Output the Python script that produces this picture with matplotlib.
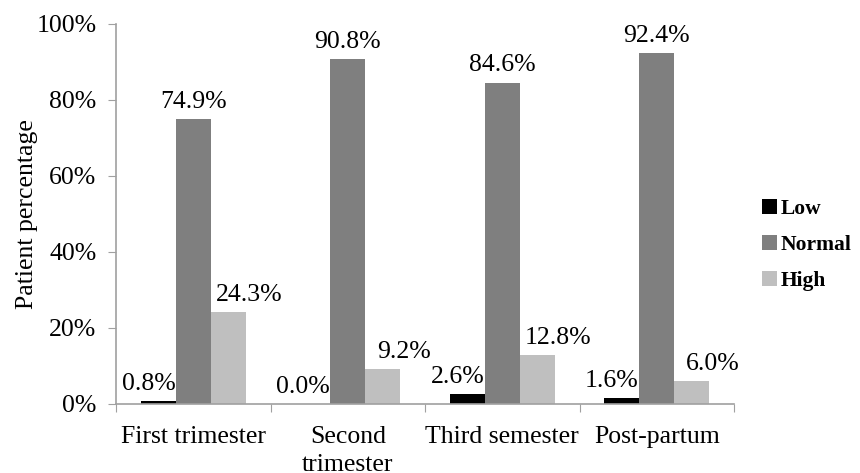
import matplotlib
matplotlib.use("Agg")
import matplotlib.pyplot as plt
import numpy as np

categories = ["First trimester", "Second\ntrimester", "Third semester", "Post-partum"]
series_names = ["Low", "Normal", "High"]
low = [0.8, 0.0, 2.6, 1.6]
normal = [74.9, 90.8, 84.6, 92.4]
high = [24.3, 9.2, 12.8, 6.0]
colors = ["#000000", "#7f7f7f", "#bfbfbf"]
y_ticks = [0, 20, 40, 60, 80, 100]

plt.rcParams["font.family"] = ["Liberation Serif", "DejaVu Serif"]

fig = plt.figure(figsize=(8.6, 4.73), dpi=100)
ax = fig.add_axes([0.1349, 0.1459, 0.7186, 0.8034])

x = np.arange(len(categories))
width = 0.227
series = [low, normal, high]
label_dx = [-7, 0, 15]
for i, (vals, name, c) in enumerate(zip(series, series_names, colors)):
    pos = x + (i - 1) * width
    ax.bar(pos, vals, width, color=c, label=name, edgecolor="none")
    for px, v in zip(pos, vals):
        ax.annotate(f"{v:.1f}%", (px, v), xytext=(label_dx[i], 8),
                    textcoords="offset points", ha="center", va="baseline",
                    fontsize=18.5)

ax.set_xlim(-0.5, len(categories) - 0.5)
ax.set_ylim(0, 100)
ax.set_yticks(y_ticks)
ax.set_yticklabels([f"{t}%" for t in y_ticks], fontsize=18.5)
ax.set_ylabel("Patient percentage", fontsize=18.5, labelpad=-1)

ax.set_xticks(np.arange(len(categories) + 1) - 0.5)
ax.set_xticklabels([])
ax.set_xticks(x, minor=True)
ax.set_xticklabels(categories, minor=True, fontsize=18.5, linespacing=1.35)
ax.tick_params(axis="x", which="minor", length=0, pad=16)
ax.tick_params(axis="x", which="major", length=6, color="#a0a0a0", direction="out")
ax.tick_params(axis="y", length=6, color="#a0a0a0", pad=8)

for s in ["top", "right"]:
    ax.spines[s].set_visible(False)
for s in ["left", "bottom"]:
    ax.spines[s].set_color("#a0a0a0")
    ax.spines[s].set_linewidth(1.2)

leg = fig.legend(loc="center left", bbox_to_anchor=(0.864, 0.482), frameon=False,
                 prop={"size": 15.5, "weight": "bold"}, handlelength=0.7,
                 handleheight=0.7, handletextpad=0.15, labelspacing=0.75)

fig.savefig("out.png", dpi=100)
